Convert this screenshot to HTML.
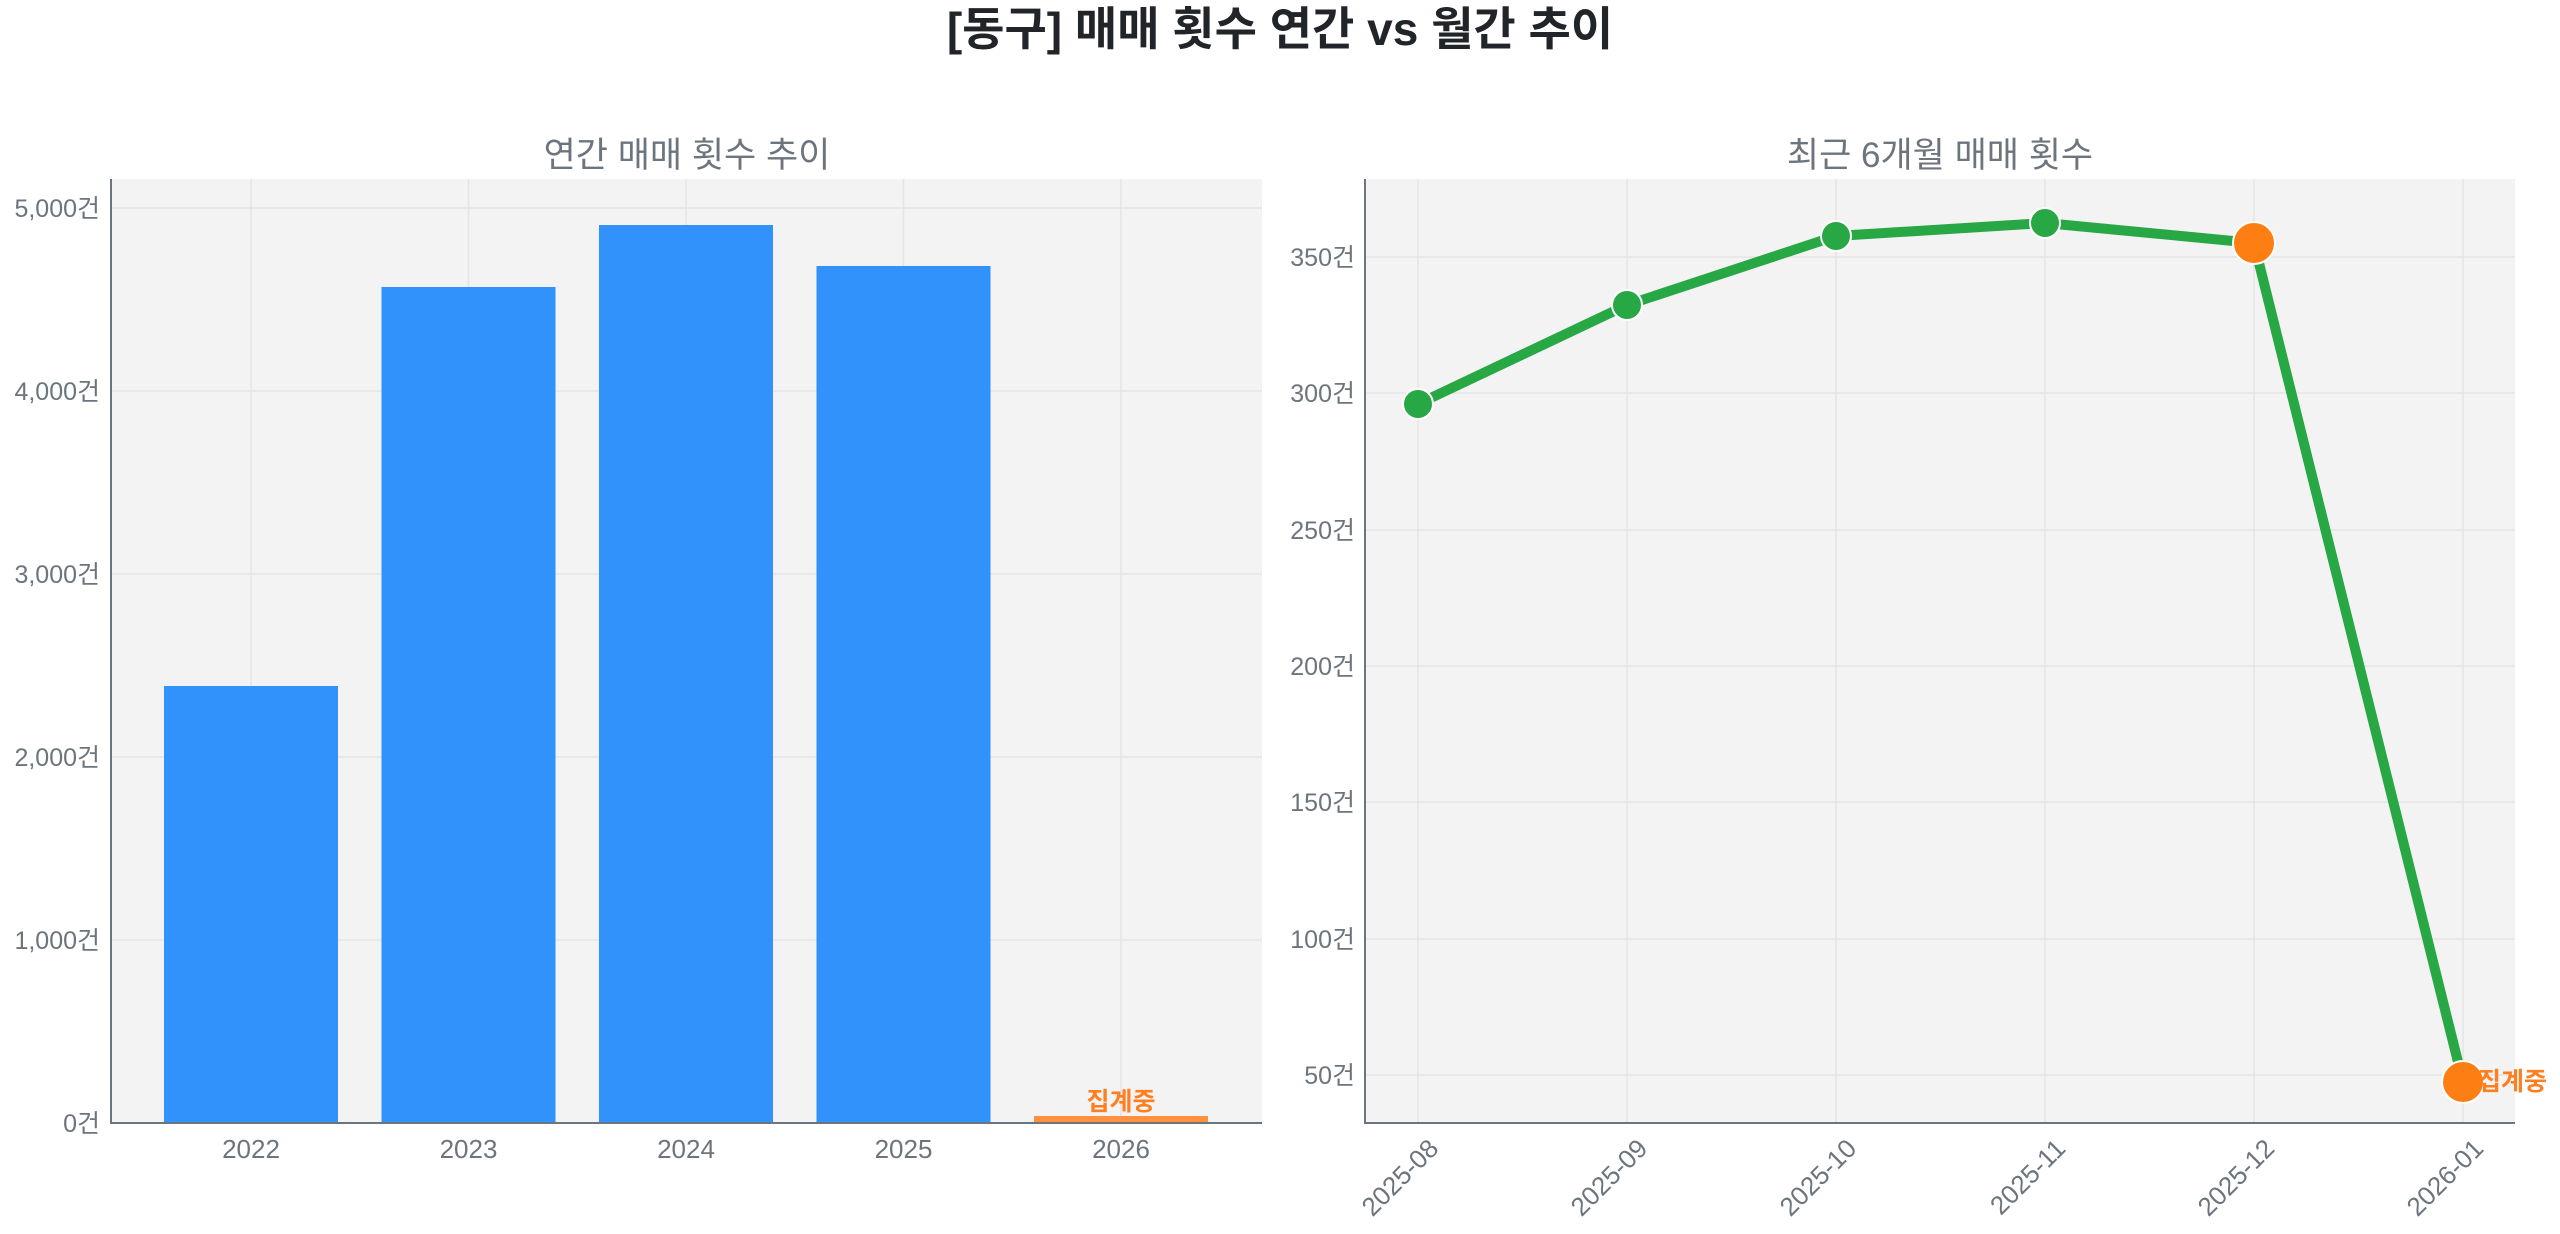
<!DOCTYPE html>
<html><head><meta charset="utf-8"><style>html,body{margin:0;padding:0;background:#fff}svg{display:block}text{font-family:"Liberation Sans","Noto Sans CJK KR",sans-serif}</style></head><body>
<svg width="2560" height="1234" viewBox="0 0 2560 1234" xmlns="http://www.w3.org/2000/svg">
<text x="1280" y="45" text-anchor="middle" font-size="46" font-weight="bold" fill="#212529">[동구] 매매 횟수 연간 vs 월간 추이</text>
<!-- left -->
<rect x="111" y="179" width="1151" height="944" fill="#f3f3f3"/>
<g stroke="#e4e4e4" stroke-width="1.5">
<line x1="111" x2="1262" y1="208" y2="208"/><line x1="111" x2="1262" y1="391" y2="391"/><line x1="111" x2="1262" y1="574" y2="574"/><line x1="111" x2="1262" y1="757" y2="757"/><line x1="111" x2="1262" y1="940" y2="940"/>
<line x1="251" x2="251" y1="179" y2="1123"/><line x1="468.5" x2="468.5" y1="179" y2="1123"/><line x1="686" x2="686" y1="179" y2="1123"/><line x1="903.5" x2="903.5" y1="179" y2="1123"/><line x1="1121" x2="1121" y1="179" y2="1123"/>
</g>
<g fill="#3192fb">
<rect x="164" y="686" width="174" height="437"/><rect x="381.5" y="287" width="174" height="836"/><rect x="599" y="225" width="174" height="898"/><rect x="816.5" y="266" width="174" height="857"/>
</g>
<rect x="1034" y="1116" width="174" height="7" fill="#fd913f"/>
<text x="1121" y="1110" text-anchor="middle" font-size="25" font-weight="bold" fill="#fd7f20">집계중</text>
<g stroke="#6c757d" stroke-width="2"><line x1="111" x2="111" y1="179" y2="1124"/><line x1="110" x2="1262" y1="1123" y2="1123"/></g>
<g font-size="25" fill="#6c757d" text-anchor="end">
<text x="100" y="1132">0건</text><text x="100" y="949">1,000건</text><text x="100" y="766">2,000건</text><text x="100" y="583">3,000건</text><text x="100" y="400">4,000건</text><text x="100" y="217">5,000건</text>
</g>
<g font-size="26" fill="#6c757d" text-anchor="middle">
<text x="251" y="1158">2022</text><text x="468.5" y="1158">2023</text><text x="686" y="1158">2024</text><text x="903.5" y="1158">2025</text><text x="1121" y="1158">2026</text>
</g>
<text x="687" y="167" text-anchor="middle" font-size="35" fill="#6c757d">연간 매매 횟수 추이</text>
<!-- right -->
<rect x="1365" y="179" width="1150" height="944" fill="#f3f3f3"/>
<g stroke="#e4e4e4" stroke-width="1.5">
<line x1="1365" x2="2515" y1="257" y2="257"/><line x1="1365" x2="2515" y1="393" y2="393"/><line x1="1365" x2="2515" y1="530" y2="530"/><line x1="1365" x2="2515" y1="666" y2="666"/><line x1="1365" x2="2515" y1="802" y2="802"/><line x1="1365" x2="2515" y1="939" y2="939"/><line x1="1365" x2="2515" y1="1075" y2="1075"/>
<line x1="1418" x2="1418" y1="179" y2="1123"/><line x1="1627" x2="1627" y1="179" y2="1123"/><line x1="1836" x2="1836" y1="179" y2="1123"/><line x1="2045" x2="2045" y1="179" y2="1123"/><line x1="2254" x2="2254" y1="179" y2="1123"/><line x1="2463" x2="2463" y1="179" y2="1123"/>
</g>
<polyline points="1418,404 1627,305 1836,236 2045,223 2254,243 2463,1082" fill="none" stroke="#28a745" stroke-width="10" stroke-linejoin="round"/>
<g fill="#28a745" stroke="#fff" stroke-width="2"><circle cx="1418" cy="404" r="15"/><circle cx="1627" cy="305" r="15"/><circle cx="1836" cy="236" r="15"/><circle cx="2045" cy="223" r="15"/></g>
<g fill="#fd7f14" stroke="#fff" stroke-width="2"><circle cx="2254" cy="243" r="21"/><circle cx="2463" cy="1082" r="21"/></g>
<text x="2478" y="1090" font-size="25" font-weight="bold" fill="#fd7f20">집계중</text>
<g stroke="#6c757d" stroke-width="2"><line x1="1365" x2="1365" y1="179" y2="1124"/><line x1="1364" x2="2515" y1="1123" y2="1123"/></g>
<g font-size="25" fill="#6c757d" text-anchor="end">
<text x="1355" y="266">350건</text><text x="1355" y="402">300건</text><text x="1355" y="539">250건</text><text x="1355" y="675">200건</text><text x="1355" y="811">150건</text><text x="1355" y="948">100건</text><text x="1355" y="1084">50건</text>
</g>
<g font-size="26" fill="#6c757d" text-anchor="end">
<text transform="translate(1440,1150) rotate(-45)">2025-08</text>
<text transform="translate(1649,1150) rotate(-45)">2025-09</text>
<text transform="translate(1858,1150) rotate(-45)">2025-10</text>
<text transform="translate(2067,1150) rotate(-45)">2025-11</text>
<text transform="translate(2276,1150) rotate(-45)">2025-12</text>
<text transform="translate(2485,1150) rotate(-45)">2026-01</text>
</g>
<text x="1940" y="167" text-anchor="middle" font-size="35" fill="#6c757d">최근 6개월 매매 횟수</text>
</svg>
</body></html>
